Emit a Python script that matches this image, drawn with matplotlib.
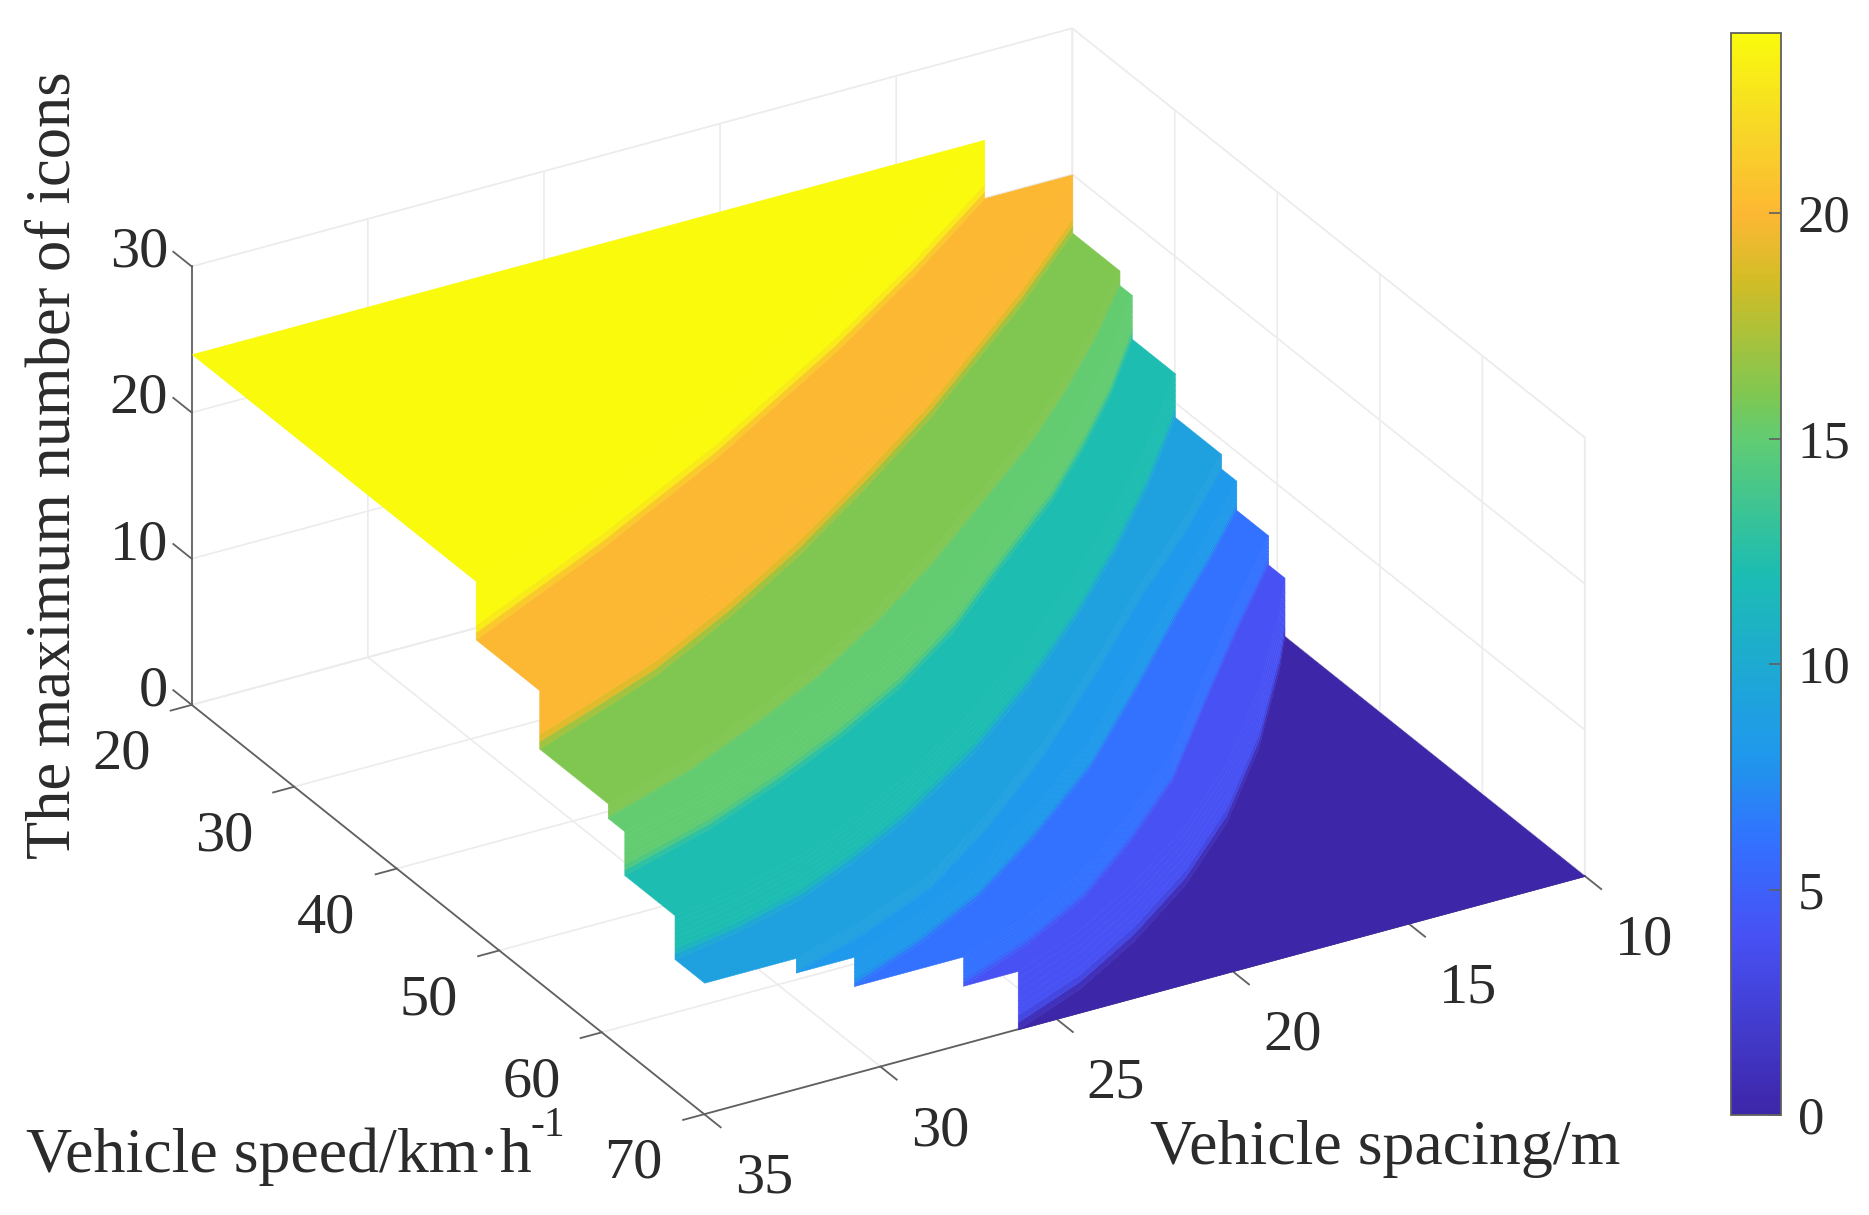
"""Maximum icon count over vehicle spacing and speed, terraced surface with colorbar."""
import matplotlib
matplotlib.use("Agg")
import matplotlib.pyplot as plt
from matplotlib.cm import ScalarMappable
from matplotlib.colors import LinearSegmentedColormap, Normalize
from mpl_toolkits.mplot3d import proj3d
from mpl_toolkits.mplot3d.art3d import Poly3DCollection

plt.rcParams["font.family"] = ["Liberation Serif", "DejaVu Serif"]

# icon count of each terrace, low to high
levels = [0, 4, 6, 8, 9, 12, 15, 16, 20, 24]

# where the surface drops down to the next terrace
drop_4_spacing = [10, 11, 13.5, 16.2, 18.7, 21.3, 23.7, 26.1]
drop_4_speed = [40.7, 43.6, 50.2, 56.3, 60.9, 64.8, 67.8, 70]
drop_6_spacing = [10, 12.5, 15, 17.8, 20.3, 22.8, 25.2, 27.65]
drop_6_speed = [39.1, 44.5, 50.1, 56.5, 61, 65, 67.8, 70]
drop_8_spacing = [10, 12, 14, 17, 20, 23, 25.8, 28.3, 30.75]
drop_8_speed = [36, 40.1, 44, 50.1, 56, 60.9, 65, 67.8, 70]
drop_9_spacing = [10, 12.5, 15, 18, 21.5, 24.5, 27.3, 30, 32.4]
drop_9_speed = [34.5, 39.5, 44, 49.9, 56.5, 61.5, 65.6, 68.2, 70]
drop_12_spacing = [10, 12.5, 15, 17.5, 20.3, 23.2, 26.5, 28.6, 30.7, 33, 35]
drop_12_speed = [30, 35.8, 41.1, 46, 51, 55.7, 60.2, 62.6, 64.7, 66.2, 67.1]
drop_15_spacing = [10, 12, 14, 16, 18.9, 21.5, 24.2, 26.8, 29.3, 32, 35]
drop_15_speed = [25.8, 30.5, 34.7, 38.6, 43.5, 48, 51.9, 55, 57.6, 60.1, 62.2]
drop_16_spacing = [10, 12, 14, 16, 18.9, 21.5, 24.2, 26.8, 29.3, 32, 35]
drop_16_speed = [24.6, 29, 33, 36.7, 41.4, 45.6, 49.5, 52.9, 55.6, 58.3, 60.6]
drop_20_spacing = [10, 13, 17.9, 21, 24.4, 27.5, 30.6, 33, 35]
drop_20_speed = [20, 25.3, 33.3, 37.9, 42.7, 46.6, 50.1, 52.2, 53.9]
drop_24_spacing = [12.5, 16, 19.7, 25.1, 30, 35]
drop_24_speed = [20, 25.2, 30.3, 37.1, 42.6, 47.7]

drops = [
    list(zip(drop_4_spacing, drop_4_speed)),
    list(zip(drop_6_spacing, drop_6_speed)),
    list(zip(drop_8_spacing, drop_8_speed)),
    list(zip(drop_9_spacing, drop_9_speed)),
    list(zip(drop_12_spacing, drop_12_speed)),
    list(zip(drop_15_spacing, drop_15_speed)),
    list(zip(drop_16_spacing, drop_16_speed)),
    list(zip(drop_20_spacing, drop_20_speed)),
    list(zip(drop_24_spacing, drop_24_speed)),
]

spacing_ticks = [10, 15, 20, 25, 30, 35]
speed_ticks = [20, 30, 40, 50, 60, 70]
count_ticks = [0, 10, 20, 30]
bar_ticks = [0, 5, 10, 15, 20]

# parula as it looks in this figure
cmap = LinearSegmentedColormap.from_list("parula_like", [
    (0.0, (0.24, 0.15, 0.66)),
    (4 / 24, (0.28, 0.32, 0.96)),
    (6 / 24, (0.20, 0.44, 1.00)),
    (8 / 24, (0.12, 0.60, 0.92)),
    (9 / 24, (0.12, 0.63, 0.88)),
    (12 / 24, (0.11, 0.74, 0.70)),
    (15 / 24, (0.38, 0.80, 0.45)),
    (16 / 24, (0.50, 0.78, 0.32)),
    (18.5 / 24, (0.82, 0.74, 0.15)),
    (20 / 24, (0.99, 0.72, 0.20)),
    (22 / 24, (0.97, 0.85, 0.15)),
    (1.0, (0.98, 0.98, 0.05)),
])
norm = Normalize(0, 24)

W_PX, H_PX = 1869, 1215
TEXT_COLOR = "#2b2b2b"
AXIS_COLOR = "#606060"
GRID_COLOR = "#ececec"
TICK_SIZE = 42
LABEL_SIZE = 46


def terrace_outline(upper, lower):
    """Outline in (spacing, speed) of the terrace between two drop lines."""
    if upper is None:
        return [(35, 20)] + lower[::-1]
    if lower is None:
        return upper + [(10, 70)]
    verts = list(upper)
    if upper[-1][0] == 35 and lower[-1][1] == 70:
        verts.append((35, 70))
    verts += lower[::-1]
    if lower[0][0] == 10 and upper[0][1] == 20:
        verts.append((10, 20))
    return verts


def label_at(ax, x, y, z, text, **kwargs):
    """Put a tick label at a 3D position, as plain text in the projected plane."""
    px, py, _ = proj3d.proj_transform(x, y, z, ax.get_proj())
    ax.text2D(px, py, text, transform=ax.transData, **kwargs)


side = 1500
fig = plt.figure(figsize=(W_PX / 100, H_PX / 100), dpi=100)
ax = fig.add_axes(
    [(868 - side / 2) / W_PX, (H_PX - 591.5 - side / 2) / H_PX, side / W_PX, side / H_PX],
    projection="3d", proj_type="ortho", computed_zorder=False,
)
ax.patch.set_alpha(0)
ax.view_init(elev=27.7, azim=59.8)
ax.set_box_aspect((1, 1, 0.486), zoom=0.986)

# terraces and the walls between them, painted from the bottom up
order = 1
for i, level in enumerate(levels):
    upper = drops[i] if i < len(drops) else None
    lower = drops[i - 1] if i > 0 else None
    outline = terrace_outline(upper, lower)
    poly = Poly3DCollection([[(s, v, level) for s, v in outline]],
                            facecolors=[cmap(norm(level))], edgecolors=[cmap(norm(level))],
                            linewidths=0.4, zorder=order)
    ax.add_collection3d(poly, autolim=False)
    order += 1
    if upper is None:
        continue
    top = levels[i + 1]
    strips = 8
    for k in range(strips):
        z0 = level + (top - level) * k / strips
        z1 = level + (top - level) * (k + 1) / strips
        # the walls take the upper terrace's colour after a short blend at the foot
        blend = min(1.0, (k + 0.5) / 2.0)
        color = cmap(norm(level + (top - level) * blend))
        wall = [(s, v, z0) for s, v in upper] + [(s, v, z1) for s, v in upper[::-1]]
        poly = Poly3DCollection([wall], facecolors=[color], edgecolors=[color],
                                linewidths=0.4, zorder=order)
        ax.add_collection3d(poly, autolim=False)
        order += 1

ax.set_xlim(10, 35)
ax.set_ylim(20, 70)
ax.set_zlim(0, 30)
ax.set_xticks(spacing_ticks)
ax.set_yticks(speed_ticks)
ax.set_zticks(count_ticks)
ax.set_xticklabels([])
ax.set_yticklabels([])
ax.set_zticklabels([])

for axis in (ax.xaxis, ax.yaxis, ax.zaxis):
    axis.pane.set_facecolor((1, 1, 1, 0))
    axis.pane.set_edgecolor(GRID_COLOR)
    axis.line.set_color(AXIS_COLOR)
    axis.line.set_linewidth(1.3)
    axis._axinfo["grid"].update(color=GRID_COLOR, linewidth=1.2)
    axis._axinfo["tick"].update(inward_factor=0.0, outward_factor=0.0)
ax.zaxis.set_ticks_position("lower")

# matlab style tick marks and labels, mplot3d puts its own in other directions
tick_style = dict(color=AXIS_COLOR, linewidth=1.3, zorder=0)
label_style = dict(fontsize=TICK_SIZE, color=TEXT_COLOR)
for s in spacing_ticks:
    ax.plot([s, s], [70, 71.6], [0, 0], **tick_style)
    label_at(ax, s + 0.2, 76.5, -0.65, str(s), ha="center", va="center", **label_style)
for v in speed_ticks:
    ax.plot([35, 35.6], [v, v], [0, 0], **tick_style)
    label_at(ax, 37, v, -2.1, str(v), ha="center", va="center", **label_style)
for z in count_ticks:
    ax.plot([35, 35], [20, 18.2], [z, z], **tick_style)
    label_at(ax, 35, 17.7, z - 0.35, str(z), ha="right", va="center", **label_style)

ax.set_xlim(10, 35)
ax.set_ylim(20, 70)
ax.set_zlim(0, 30)

fig.text(55 / W_PX, 1 - 465 / H_PX, "The maximum number of icons", rotation=90,
         ha="center", va="center", fontsize=45, color=TEXT_COLOR)
fig.text(26 / W_PX, 1 - 1172 / H_PX, "Vehicle speed/km\u00b7h", ha="left",
         va="baseline", fontsize=LABEL_SIZE, color=TEXT_COLOR)
fig.text(530 / W_PX, 1 - 1136 / H_PX, "-1", ha="left", va="baseline",
         fontsize=30, color=TEXT_COLOR)
fig.text(1150 / W_PX, 1 - 1164 / H_PX, "Vehicle spacing/m", ha="left", va="baseline",
         fontsize=LABEL_SIZE, color=TEXT_COLOR)

cax = fig.add_axes([1731 / W_PX, 1 - 1115 / H_PX, 50 / W_PX, 1082 / H_PX])
bar = fig.colorbar(ScalarMappable(norm=norm, cmap=cmap), cax=cax, ticks=bar_ticks)
bar.outline.set_edgecolor(AXIS_COLOR)
bar.outline.set_linewidth(1.3)
bar.ax.tick_params(direction="in", length=9, width=1.2, color=AXIS_COLOR, labelsize=38,
                   labelcolor=TEXT_COLOR, pad=12)

fig.savefig("out.png", dpi=100)
plt.close(fig)
